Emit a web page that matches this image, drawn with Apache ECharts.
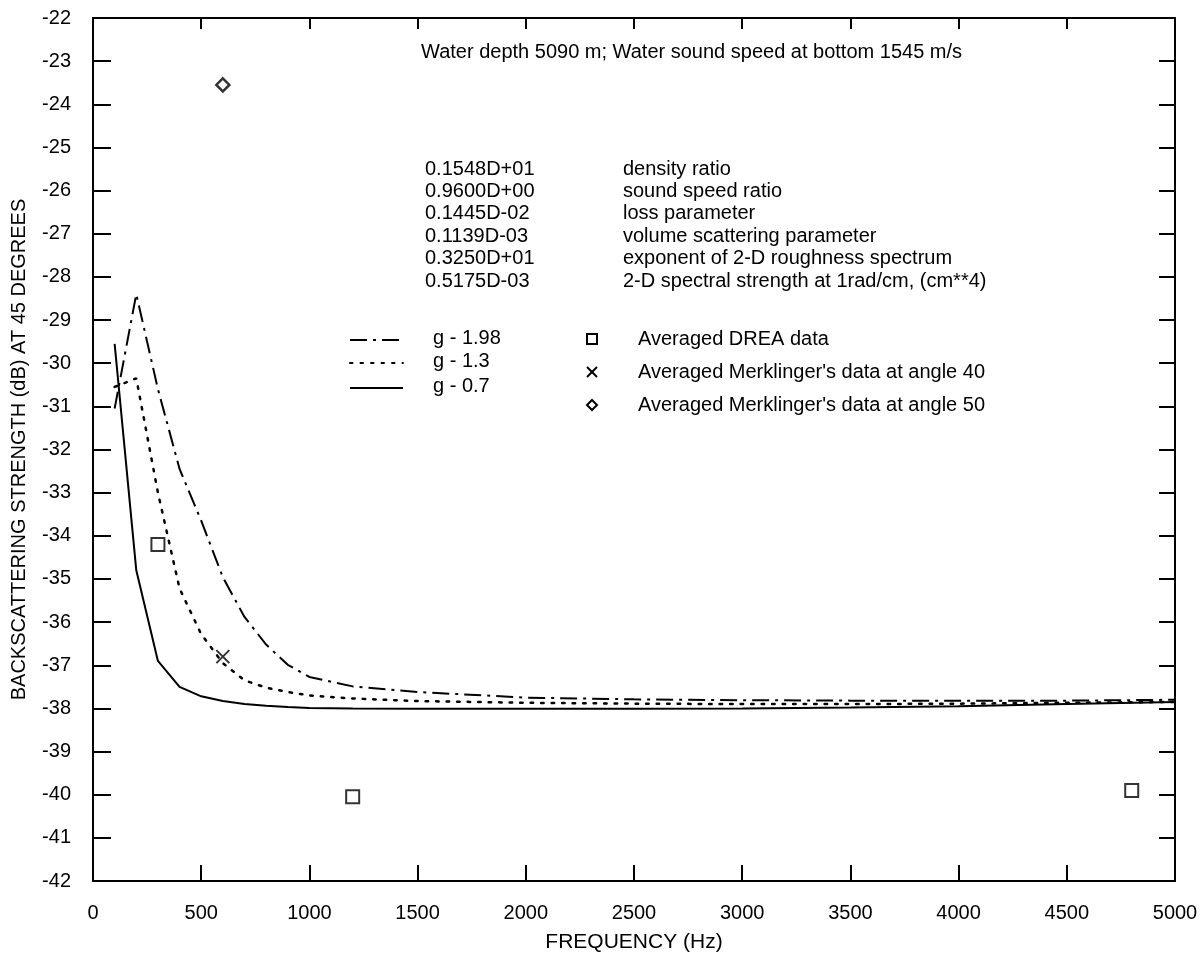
<!DOCTYPE html>
<html>
<head>
<meta charset="utf-8">
<title>Backscattering strength vs frequency</title>
<script src="https://cdn.jsdelivr.net/npm/echarts@6/dist/echarts.min.js"></script>
<style>
  html, body { margin: 0; padding: 0; background: #fff; }
  #chart { width: 1202px; height: 966px; }
</style>
</head>
<body>
<div id="chart"></div>
<script>
// Model frequencies (Hz) and computed backscattering strength (dB) for three g values
const frequencies = [100, 200, 300, 400, 500, 600, 700, 800, 900, 1000, 1200, 1500, 2000, 2500, 3000, 3500, 4000, 4500, 5000];
const curveG198 = [-31.05, -28.4, -30.6, -32.45, -33.65, -34.96, -35.88, -36.52, -36.99, -37.27, -37.49, -37.62, -37.75, -37.79, -37.81, -37.82, -37.82, -37.82, -37.8];
const curveG13  = [-30.55, -30.35, -33.0, -35.22, -36.28, -36.95, -37.35, -37.52, -37.62, -37.7, -37.77, -37.83, -37.87, -37.89, -37.9, -37.9, -37.89, -37.87, -37.85];
const curveG07  = [-29.55, -34.8, -36.9, -37.5, -37.72, -37.83, -37.9, -37.94, -37.97, -37.99, -38.0, -38.01, -38.01, -38.01, -38.0, -37.98, -37.95, -37.9, -37.85];

// Measured data points [frequency, dB]
const dreaData = [[300, -34.2], [1200, -40.05], [4800, -39.9]];
const merklinger40 = [[600, -36.8]];
const merklinger50 = [[600, -23.55]];

// Axis ranges
const xMin = 0, xMax = 5000, xStep = 500;
const yMin = -42, yMax = -22, yStep = 1;

// Model parameters listed in the annotation block
const paramValues = ['0.1548D+01', '0.9600D+00', '0.1445D-02', '0.1139D-03', '0.3250D+01', '0.5175D-03'];
const paramNames = ['density ratio', 'sound speed ratio', 'loss parameter', 'volume scattering parameter',
  'exponent of 2-D roughness spectrum', '2-D spectral strength at 1rad/cm, (cm**4)'];

const lineLegend = ['g - 1.98', 'g - 1.3', 'g - 0.7'];
const markerLegend = ['Averaged DREA data', "Averaged Merklinger's data at angle 40", "Averaged Merklinger's data at angle 50"];

const FONT = '"Liberation Sans", Arial, Helvetica, sans-serif';
const INK = '#000';
const TXT = '20px ' + FONT;

const chart = echarts.init(document.getElementById('chart'), null, { renderer: 'canvas' });

const dashDot = [17, 6, 3, 6];
const dotted = [2.5, 8];

const zip = (xs, ys) => xs.map((x, i) => [x, ys[i]]);

function label(text, x, y, font) {
  return { type: 'text', x: x, y: y, style: { text: text, fill: INK, font: font || TXT, verticalAlign: 'middle', textVerticalAlign: 'middle' } };
}

const graphics = [];
// Header line
graphics.push(label('Water depth 5090 m; Water sound speed at bottom 1545 m/s', 421, 52));
// Parameter table
paramValues.forEach((v, i) => {
  graphics.push(label(v, 425, 169 + i * 22.4));
  graphics.push(label(paramNames[i], 623, 169 + i * 22.4));
});
// Line legend
const lineDashes = [dashDot, dotted, null];
const lineRows = [340, 363, 388];
lineLegend.forEach((name, i) => {
  graphics.push({
    type: 'line', shape: { x1: 350, y1: lineRows[i], x2: 403, y2: lineRows[i] },
    style: { stroke: INK, lineWidth: 2, lineDash: lineDashes[i] || null, lineCap: i === 1 ? 'round' : 'butt' }
  });
  graphics.push(label(name, 433, lineRows[i] - 2));
});
// Marker legend
const markerRows = [339, 372, 405];
const mx = 592;
graphics.push({ type: 'rect', shape: { x: mx - 5, y: markerRows[0] - 5, width: 10, height: 10 }, style: { fill: 'none', stroke: INK, lineWidth: 2 } });
graphics.push({ type: 'polyline', shape: { points: [[mx - 5, markerRows[1] - 5], [mx + 5, markerRows[1] + 5]] }, style: { stroke: INK, lineWidth: 2 } });
graphics.push({ type: 'polyline', shape: { points: [[mx + 5, markerRows[1] - 5], [mx - 5, markerRows[1] + 5]] }, style: { stroke: INK, lineWidth: 2 } });
graphics.push({ type: 'polygon', shape: { points: [[mx, markerRows[2] - 5], [mx + 5, markerRows[2]], [mx, markerRows[2] + 5], [mx - 5, markerRows[2]]] }, style: { fill: 'none', stroke: INK, lineWidth: 2 } });
markerLegend.forEach((name, i) => {
  graphics.push(label(name, 638, markerRows[i]));
});

const tickStyle = { color: INK, width: 2 };
const commonLine = { show: true, onZero: false, lineStyle: { color: INK, width: 2 } };
const fmtInt = v => String(Math.round(v));

const option = {
  backgroundColor: '#fff',
  animation: false,
  grid: { left: 93, right: 27, top: 18, bottom: 85, containLabel: false },
  xAxis: [
    {
      type: 'value', min: xMin, max: xMax, interval: xStep, position: 'bottom',
      axisLine: commonLine, axisTick: { show: true, inside: true, length: 16, lineStyle: tickStyle },
      splitLine: { show: false },
      axisLabel: { color: INK, fontSize: 20, fontFamily: FONT, margin: 22, formatter: fmtInt },
      name: 'FREQUENCY (Hz)', nameLocation: 'middle', nameGap: 51,
      nameTextStyle: { color: INK, fontSize: 21, fontFamily: FONT }
    },
    {
      type: 'value', min: xMin, max: xMax, interval: xStep, position: 'top',
      axisLine: commonLine, axisTick: { show: true, inside: true, length: 11, lineStyle: tickStyle },
      splitLine: { show: false },
      axisLabel: { show: false }
    }
  ],
  yAxis: [
    {
      type: 'value', min: yMin, max: yMax, interval: yStep, position: 'left',
      axisLine: commonLine, axisTick: { show: true, inside: true, length: 18, lineStyle: tickStyle },
      splitLine: { show: false },
      axisLabel: { color: INK, fontSize: 20, fontFamily: FONT, margin: 22, formatter: fmtInt },
      name: 'BACKSCATTERING STRENGTH (dB) AT 45 DEGREES', nameLocation: 'middle', nameGap: 64,
      nameTextStyle: { color: INK, fontSize: 20, fontFamily: FONT }
    },
    {
      type: 'value', min: yMin, max: yMax, interval: yStep, position: 'right',
      axisLine: commonLine, axisTick: { show: true, inside: true, length: 16, lineStyle: tickStyle },
      splitLine: { show: false },
      axisLabel: { show: false }
    }
  ],
  series: [
    {
      name: 'g - 1.98', type: 'line', data: zip(frequencies, curveG198), symbol: 'none',
      lineStyle: { color: INK, width: 2, type: dashDot }, z: 3
    },
    {
      name: 'g - 1.3', type: 'line', data: zip(frequencies, curveG13), symbol: 'none',
      lineStyle: { color: INK, width: 2.5, type: dotted, cap: 'round' }, z: 3
    },
    {
      name: 'g - 0.7', type: 'line', data: zip(frequencies, curveG07), symbol: 'none',
      lineStyle: { color: INK, width: 2 }, z: 3
    },
    {
      name: markerLegend[0], type: 'scatter', data: dreaData, symbol: 'rect', symbolSize: 13,
      itemStyle: { color: '#fff', borderColor: INK, borderWidth: 2 }, z: 4
    },
    {
      name: markerLegend[1], type: 'scatter', data: merklinger40,
      symbol: 'path://M0,0L10,10M10,0L0,10', symbolSize: 13,
      itemStyle: { color: 'none', borderColor: INK, borderWidth: 2 }, z: 4
    },
    {
      name: markerLegend[2], type: 'scatter', data: merklinger50, symbol: 'diamond', symbolSize: 13,
      itemStyle: { color: '#fff', borderColor: INK, borderWidth: 2.5 }, z: 4
    }
  ],
  graphic: graphics
};

chart.setOption(option);
</script>
</body>
</html>
